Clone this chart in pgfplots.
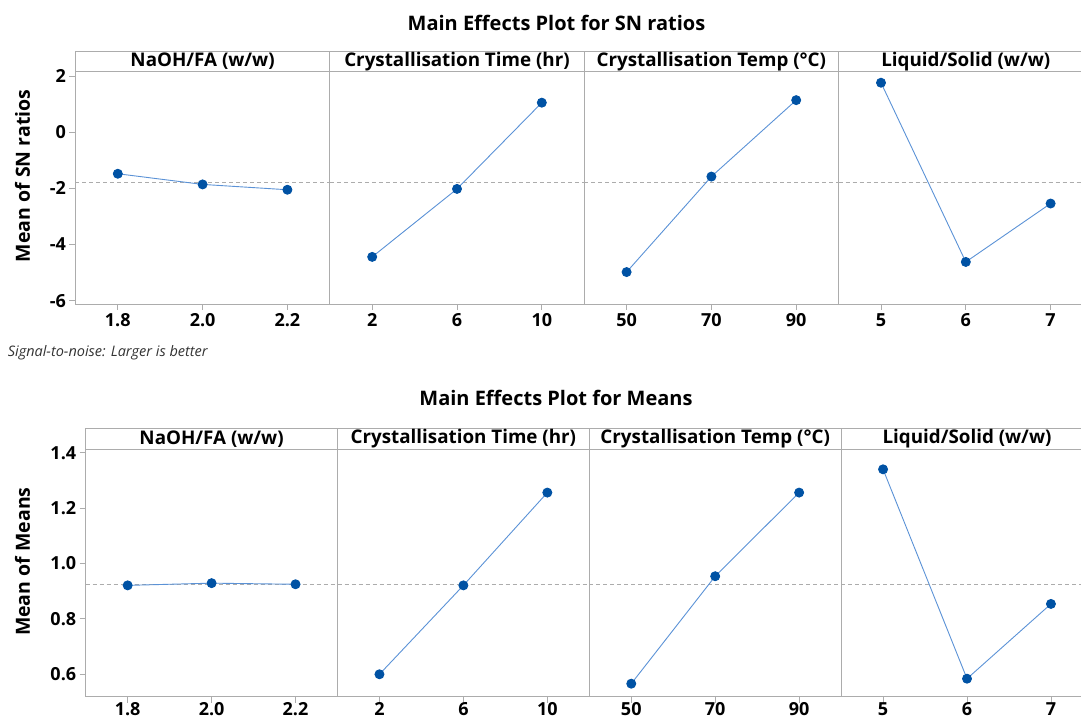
\documentclass[border=0pt]{standalone}
\usepackage{fontspec}
\setmainfont{Open Sans}
\usepackage{pgfplots}
\pgfplotsset{compat=1.18}

\definecolor{lineblue}{RGB}{91,146,214}
\definecolor{dotblue}{RGB}{0,82,164}
\definecolor{framegray}{RGB}{172,172,172}

\newcommand\tickfont{\bfseries\fontsize{18}{18}\selectfont}
\newcommand\headfont{\bfseries\fontsize{18.8}{18.8}\selectfont}
\newcommand\titlefont{\bfseries\fontsize{20}{20}\selectfont}
\newcommand\labfont{\bfseries\fontsize{19.5}{19.5}\selectfont}

\pgfplotsset{
  mep/.style={
    scale only axis, anchor=south west,
    axis line style={framegray, line width=0.8pt},
    tick style={framegray, line width=0.8pt},
    major tick length=6pt,
    tick align=outside, xtick pos=bottom, ytick pos=left,
    xticklabel style={font=\tickfont},
    yticklabel style={font=\tickfont},
  },
  top/.style={mep, width=254.4pt, height=232.3pt, ymin=-6.117, ymax=2.153},
  bot/.style={mep, width=251.8pt, height=247.7pt, ymin=0.519, ymax=1.4134,
    xticklabel style={yshift=3.5pt}},
  noy/.style={ytick=\empty},
  meanline/.style={framegray, line width=0.8pt, dash pattern=on 4pt off 3pt, forget plot},
  effect/.style={lineblue, line width=0.9pt, mark=*, mark size=4.5pt,
    mark options={draw=dotblue, fill=dotblue}},
}

\begin{document}
\begin{tikzpicture}

% ---------- SN ratios ----------
\begin{axis}[top, at={(75.4pt,417pt)}, xmin=1.7, xmax=2.3,
  xtick={1.8,2.0,2.2}, xticklabels={1.8,2.0,2.2},
  ytick={-6,-4,-2,0,2}, yticklabels={-6,-4,-2,0,2}]
\addplot[meanline] coordinates {(1.7,-1.80) (2.3,-1.80)};
\addplot[effect] coordinates {(1.8,-1.48) (2.0,-1.86) (2.2,-2.05)};
\end{axis}
\begin{axis}[top, noy, at={(329.8pt,417pt)}, xmin=0, xmax=12,
  xtick={2,6,10}, xticklabels={2,6,10}]
\addplot[meanline] coordinates {(0,-1.80) (12,-1.80)};
\addplot[effect] coordinates {(2,-4.44) (6,-2.02) (10,1.05)};
\end{axis}
\begin{axis}[top, noy, at={(584.2pt,417pt)}, xmin=40, xmax=100,
  xtick={50,70,90}, xticklabels={50,70,90}]
\addplot[meanline] coordinates {(40,-1.80) (100,-1.80)};
\addplot[effect] coordinates {(50,-4.98) (70,-1.58) (90,1.14)};
\end{axis}
\begin{axis}[top, noy, at={(838.6pt,417pt)}, xmin=4.5, xmax=7.5,
  xtick={5,6,7}, xticklabels={5,6,7}]
\addplot[meanline] coordinates {(4.5,-1.80) (7.5,-1.80)};
\addplot[effect] coordinates {(5,1.76) (6,-4.62) (7,-2.54)};
\end{axis}

% ---------- Means ----------
\begin{axis}[bot, at={(85.7pt,24.3pt)}, xmin=1.7, xmax=2.3,
  xtick={1.8,2.0,2.2}, xticklabels={1.8,2.0,2.2},
  ytick={0.6,0.8,1.0,1.2,1.4}, yticklabels={0.6,0.8,1.0,1.2,1.4}]
\addplot[meanline] coordinates {(1.7,0.925) (2.3,0.925)};
\addplot[effect] coordinates {(1.8,0.921) (2.0,0.929) (2.2,0.925)};
\end{axis}
\begin{axis}[bot, noy, at={(337.5pt,24.3pt)}, xmin=0, xmax=12,
  xtick={2,6,10}, xticklabels={2,6,10}]
\addplot[meanline] coordinates {(0,0.925) (12,0.925)};
\addplot[effect] coordinates {(2,0.600) (6,0.921) (10,1.256)};
\end{axis}
\begin{axis}[bot, noy, at={(589.3pt,24.3pt)}, xmin=40, xmax=100,
  xtick={50,70,90}, xticklabels={50,70,90}]
\addplot[meanline] coordinates {(40,0.925) (100,0.925)};
\addplot[effect] coordinates {(50,0.566) (70,0.954) (90,1.256)};
\end{axis}
\begin{axis}[bot, noy, at={(841.1pt,24.3pt)}, xmin=4.5, xmax=7.5,
  xtick={5,6,7}, xticklabels={5,6,7}]
\addplot[meanline] coordinates {(4.5,0.925) (7.5,0.925)};
\addplot[effect] coordinates {(5,1.340) (6,0.584) (7,0.854)};
\end{axis}

% panel headers
\foreach \x/\t in {75.4/{NaOH/FA (w/w)}, 329.8/{Crystallisation Time (hr)},
                   584.2/{Crystallisation Temp (°C)}, 838.6/{Liquid/Solid (w/w)}} {
  \draw[framegray, line width=0.8pt] (\x pt,649.3pt) rectangle ++(254.4pt,20.7pt);
  \node[font=\headfont, inner sep=0pt] at ([xshift=127.2pt]\x pt,659.7pt) {\t};
}
\foreach \x/\t in {85.7/{NaOH/FA (w/w)}, 337.5/{Crystallisation Time (hr)},
                   589.3/{Crystallisation Temp (°C)}, 841.1/{Liquid/Solid (w/w)}} {
  \draw[framegray, line width=0.8pt] (\x pt,272pt) rectangle ++(251.8pt,20.3pt);
  \node[font=\headfont, inner sep=0pt] at ([xshift=125.9pt]\x pt,282.2pt) {\t};
}

% titles and labels
\node[font=\titlefont, inner sep=0pt] at (556.5pt,698pt) {Main Effects Plot for SN ratios};
\node[font=\titlefont, inner sep=0pt] at (556pt,323pt) {Main Effects Plot for Means};
\node[font=\labfont, rotate=90, inner sep=0pt] at (22.5pt,545pt) {Mean of SN ratios};
\node[font=\labfont, rotate=90, inner sep=0pt] at (22.4pt,159.3pt) {Mean of Means};
\node[font=\itshape\fontsize{14.5}{14.5}\selectfont, text=black!80, anchor=west, inner sep=0pt]
  at (7.6pt,368.3pt) {Signal-to-noise: Larger is better};

\pgfresetboundingbox
\useasboundingbox (0pt,0pt) rectangle (1081pt,721pt);
\end{tikzpicture}
\end{document}
